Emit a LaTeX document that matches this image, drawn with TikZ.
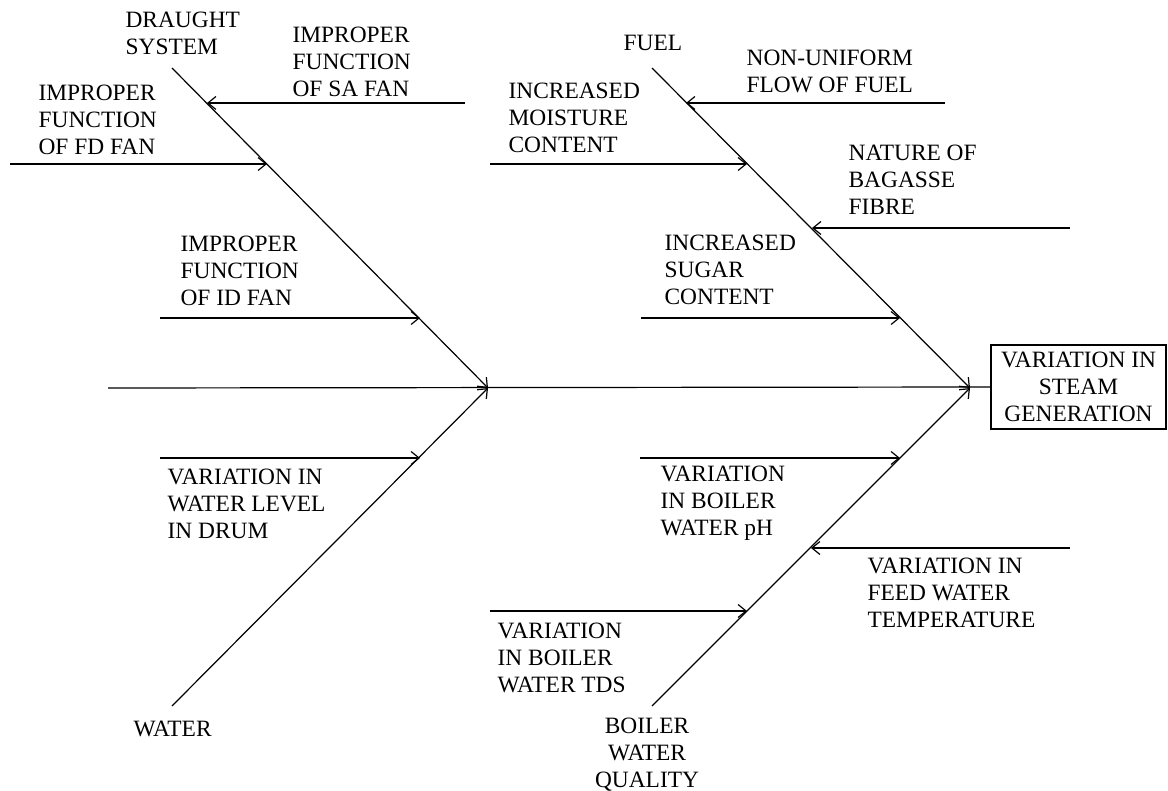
\documentclass[tikz,border=0pt]{standalone}
\usepackage{fontspec}
\setmainfont{Liberation Serif}
\usepackage{tikz}
\usetikzlibrary{arrows.meta}
\tikzstyle{cause}=[inner sep=0pt, anchor=north west, align=left, font=\fontsize{11.7pt}{13.5pt}\selectfont]
\tikzstyle{bone}=[line width=0.6pt, -{Straight Barb[length=4pt,width=6.5pt]}]
\newcommand{\cause}{\node[cause]}

\begin{document}
\begin{tikzpicture}[x=0.5pt, y=-0.5pt, line width=0.6pt]
	\useasboundingbox (0,0) rectangle (1168,791);
	% effect
	\node[draw, inner sep=0pt, minimum width=87.5pt, minimum height=42pt, align=center,
	      font=\fontsize{11.7pt}{13.5pt}\selectfont] (effect) at (1078.5,387) {VARIATION IN\\STEAM\\GENERATION};
	\coordinate (tail) at (108,388);
	\coordinate (lj) at (488,388);
	\coordinate (rj) at (970,388);
	\coordinate (ulTop) at (172,68);
	\coordinate (llBot) at (172,706);
	\coordinate (urTop) at (652,68);
	\coordinate (lrBot) at (652,706);
	% tips on the bones
	\coordinate (sa) at (207,103);   \coordinate (saEnd) at (465,103);
	\coordinate (fd) at (267,164);   \coordinate (fdEnd) at (10,164);
	\coordinate (id) at (420,318);   \coordinate (idEnd) at (160,318);
	\coordinate (lvl) at (420,458);  \coordinate (lvlEnd) at (160,458);
	\coordinate (flow) at (686,103); \coordinate (flowEnd) at (945,103);
	\coordinate (mst) at (747,164);  \coordinate (mstEnd) at (490,164);
	\coordinate (bag) at (812,228);  \coordinate (bagEnd) at (1070,228);
	\coordinate (sug) at (900,318);  \coordinate (sugEnd) at (641,318);
	\coordinate (ph) at (900,458);   \coordinate (phEnd) at (640,458);
	\coordinate (feed) at (811,548); \coordinate (feedEnd) at (1070,548);
	\coordinate (tds) at (747,611);  \coordinate (tdsEnd) at (490,611);

	\cause (draught) at (125,11) {DRAUGHT\\SYSTEM};
	\cause (safan) at (292,26) {IMPROPER\\FUNCTION\\OF SA FAN};
	\cause (fdfan) at (38,84) {IMPROPER\\FUNCTION\\OF FD FAN};
	\cause (idfan) at (180,235) {IMPROPER\\FUNCTION\\OF ID FAN};
	\cause (level) at (167,468) {VARIATION IN\\WATER LEVEL\\IN DRUM};
	\cause (water) at (133,720) {WATER};
	\cause (fuel) at (623,35) {FUEL};
	\cause (nonuni) at (746,49) {NON-UNIFORM\\FLOW OF FUEL};
	\cause (moist) at (508,82) {INCREASED\\MOISTURE\\CONTENT};
	\cause (bagasse) at (848,144) {NATURE OF\\BAGASSE\\FIBRE};
	\cause (sugar) at (664,234) {INCREASED\\SUGAR\\CONTENT};
	\cause (phval) at (660,465) {VARIATION\\IN BOILER\\WATER pH};
	\cause (feedtemp) at (867,557) {VARIATION IN\\FEED WATER\\TEMPERATURE};
	\cause (tdsval) at (497,622) {VARIATION\\IN BOILER\\WATER TDS};
	\node[cause, anchor=north, align=center] (quality) at (647,717) {BOILER\\WATER\\QUALITY};

	\draw (tail) -- (effect.west);
	\path[bone]
		(ulTop) edge (lj)
		(llBot) edge (lj)
		(urTop) edge (rj)
		(lrBot) edge (rj)
		(saEnd) edge (sa)
		(fdEnd) edge (fd)
		(idEnd) edge (id)
		(lvlEnd) edge (lvl)
		(flowEnd) edge (flow)
		(mstEnd) edge (mst)
		(bagEnd) edge (bag)
		(sugEnd) edge (sug)
		(phEnd) edge (ph)
		(feedEnd) edge (feed)
		(tdsEnd) edge (tds)
	;
\end{tikzpicture}
\end{document}
